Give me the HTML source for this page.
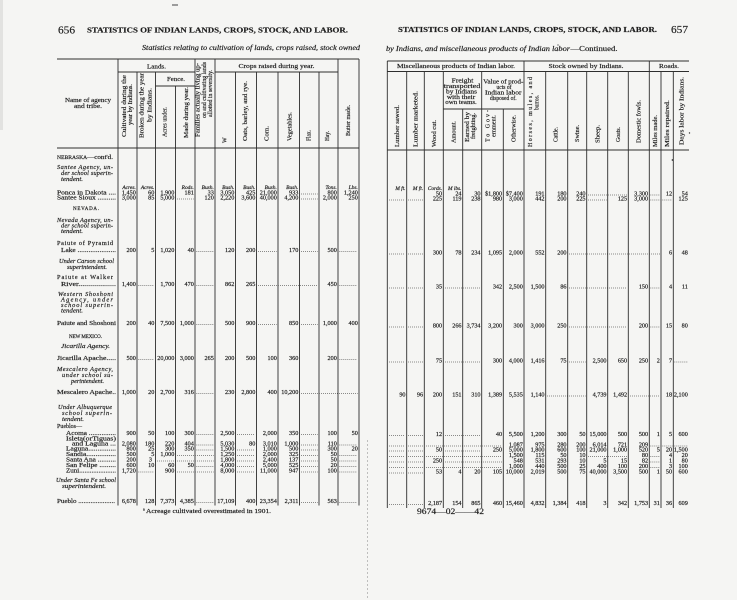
<!DOCTYPE html>
<html><head><meta charset="utf-8">
<style>
html,body{margin:0;padding:0;background:#f5f5f3;}
svg{display:block}
text{font-family:"Liberation Serif",serif;fill:#1e1e1e;stroke:#1e1e1e;stroke-width:.18px}
.n{font-size:6.2px;text-anchor:end}
.u{font-size:5.4px;font-style:italic;text-anchor:end}
.nm{font-size:6.3px}
.it{font-style:italic}
.r{font-size:6px}
.hd{font-size:6.3px;text-anchor:middle}
.ln{stroke:#2e2e2e;stroke-width:.9;fill:none}
.d{stroke:#2a2a2a;stroke-width:.8;stroke-dasharray:.7 1.3;fill:none}
</style></head><body>
<svg width="737" height="600" viewBox="0 0 737 600" xmlns="http://www.w3.org/2000/svg">
<rect x="0" y="0" width="737" height="600" fill="#f5f5f3"/>
<rect x="0" y="0" width="3" height="130" fill="#e2e2e0"/>
<rect x="172" y="4.5" width="6" height="1" fill="#444"/>
<path d="M367.5 440V600" stroke="#9a9a9a" stroke-width=".6" stroke-dasharray="2 2"/>

<!-- Page headings -->
<text x="58" y="33.5" font-size="11" textLength="17" lengthAdjust="spacingAndGlyphs">656</text>
<text x="87" y="32.5" font-size="7.5" font-weight="bold" textLength="261" lengthAdjust="spacingAndGlyphs">STATISTICS OF INDIAN LANDS, CROPS, STOCK, AND LABOR.</text>
<text x="142" y="50" font-size="7" class="it" textLength="218" lengthAdjust="spacingAndGlyphs">Statistics relating to cultivation of lands, crops raised, stock owned</text>

<text x="398" y="32" font-size="7.5" font-weight="bold" textLength="259" lengthAdjust="spacingAndGlyphs">STATISTICS OF INDIAN LANDS, CROPS, STOCK, AND LABOR.</text>
<text x="671" y="33" font-size="11" textLength="17" lengthAdjust="spacingAndGlyphs">657</text>
<text x="386" y="51" font-size="7" class="it" textLength="184" lengthAdjust="spacingAndGlyphs">by Indians, and miscellaneous products of Indian labor</text>
<text x="570.5" y="51" font-size="7" textLength="47" lengthAdjust="spacingAndGlyphs">—Continued.</text>
<circle cx="558" cy="45" r=".6" fill="#333"/>

<!-- LEFT TABLE LINES -->
<path class="ln" stroke-width="1.2" d="M57 59H359"/>
<path class="ln" d="M118 72H195 M215 72H338 M155.5 86H195 M57 148H359"/>
<path class="ln" d="M118 59V505.5 M137 72V505.5 M155.5 72V505.5 M175.5 86V505.5 M195 59V505.5 M215 59V505.5 M235.5 72V505.5 M256.5 72V505.5 M278 72V505.5 M299.5 72V505.5 M319 72V505.5 M338 59V505.5 M359 59V505.5"/>

<!-- LEFT HEADER TEXT -->
<text class="hd" x="88" y="102" textLength="46" lengthAdjust="spacingAndGlyphs">Name of agency</text>
<text class="hd" x="88" y="108" textLength="28" lengthAdjust="spacingAndGlyphs">and tribe.</text>
<text class="hd" x="156.5" y="68.5" textLength="19" lengthAdjust="spacingAndGlyphs">Lands.</text>
<text class="hd" x="176" y="81" textLength="18" lengthAdjust="spacingAndGlyphs">Fence.</text>
<text class="hd" x="276.5" y="68" textLength="76" lengthAdjust="spacingAndGlyphs">Crops raised during year.</text>

<text class="r" transform="translate(126,137) rotate(-90)" textLength="62" lengthAdjust="spacingAndGlyphs">Cultivated during the</text>
<text class="r" transform="translate(132,125) rotate(-90)" textLength="41" lengthAdjust="spacingAndGlyphs">year by Indians.</text>
<text class="r" transform="translate(143.7,138) rotate(-90)" textLength="65" lengthAdjust="spacingAndGlyphs">Broken during the year</text>
<text class="r" transform="translate(151.3,122) rotate(-90)" textLength="34" lengthAdjust="spacingAndGlyphs">by Indians.</text>
<text class="r" transform="translate(166.5,137) rotate(-90)" textLength="30" lengthAdjust="spacingAndGlyphs">Acres under.</text>
<text class="r" transform="translate(188,138) rotate(-90)" textLength="51" lengthAdjust="spacingAndGlyphs">Made during year.</text>
<text class="r" transform="translate(199.3,137) rotate(-90)" textLength="74" lengthAdjust="spacingAndGlyphs">Families actually living up-</text>
<text class="r" transform="translate(206,118) rotate(-90)" textLength="56" lengthAdjust="spacingAndGlyphs">on and cultivating lands</text>
<text class="r" transform="translate(212,117) rotate(-90)" textLength="47" lengthAdjust="spacingAndGlyphs">allotted in severalty.</text>
<text class="r" transform="translate(226.5,143) rotate(-90)">W</text>
<text class="r" transform="translate(247,141) rotate(-90)" textLength="60" lengthAdjust="spacingAndGlyphs">Oats, barley, and rye.</text>
<text class="r" transform="translate(268.7,141) rotate(-90)" textLength="15" lengthAdjust="spacingAndGlyphs">Corn.</text>
<text class="r" transform="translate(291.5,141) rotate(-90)" textLength="29" lengthAdjust="spacingAndGlyphs">Vegetables.</text>
<text class="r" transform="translate(310.5,141) rotate(-90)" textLength="11" lengthAdjust="spacingAndGlyphs">Flax.</text>
<text class="r" transform="translate(329,141) rotate(-90)" textLength="10" lengthAdjust="spacingAndGlyphs">Hay.</text>
<text class="r" transform="translate(349.8,136) rotate(-90)" textLength="31" lengthAdjust="spacingAndGlyphs">Butter made.</text>

<!-- LEFT NAME COLUMN -->
<g class="nm">
<text x="57" y="159" textLength="56" lengthAdjust="spacingAndGlyphs"><tspan font-size="5">NEBRASKA</tspan>—cont'd.</text>
<text x="57" y="169" class="it" textLength="56" lengthAdjust="spacing">Santee Agency, un-</text>
<text x="61" y="175" class="it" textLength="52" lengthAdjust="spacing">der school superin-</text>
<text x="61" y="181" class="it" textLength="22" lengthAdjust="spacingAndGlyphs">tendent.</text>
<text x="57" y="194.5" textLength="59" lengthAdjust="spacingAndGlyphs">Ponca in Dakota ....</text>
<text x="57" y="199.5" textLength="59" lengthAdjust="spacingAndGlyphs">Santee Sioux ..........</text>
<text x="73" y="210" font-size="5" textLength="26" lengthAdjust="spacing">NEVADA.</text>
<text x="57" y="222" class="it" textLength="56" lengthAdjust="spacing">Nevada Agency, un-</text>
<text x="61" y="227.5" class="it" textLength="52" lengthAdjust="spacing">der school superin-</text>
<text x="61" y="233" class="it" textLength="22" lengthAdjust="spacingAndGlyphs">tendent.</text>
<text x="57" y="245" textLength="56" lengthAdjust="spacing">Paiute of Pyramid</text>
<text x="61" y="252" textLength="55" lengthAdjust="spacingAndGlyphs">Lake .....................</text>
<text x="59" y="263" class="it" textLength="55" lengthAdjust="spacing">Under Carson school</text>
<text x="67" y="269" class="it" textLength="40" lengthAdjust="spacingAndGlyphs">superintendent.</text>
<text x="57" y="279" textLength="56" lengthAdjust="spacing">Paiute at Walker</text>
<text x="61" y="286" textLength="55" lengthAdjust="spacingAndGlyphs">River...................</text>
<text x="58" y="296" class="it" textLength="55" lengthAdjust="spacing">Western Shoshoni</text>
<text x="61" y="301.5" class="it" textLength="52" lengthAdjust="spacing">Agency, under</text>
<text x="61" y="307" class="it" textLength="52" lengthAdjust="spacing">school superin-</text>
<text x="61" y="312.5" class="it" textLength="22" lengthAdjust="spacingAndGlyphs">tendent.</text>
<text x="57" y="325" textLength="59" lengthAdjust="spacingAndGlyphs">Paiute and Shoshoni</text>
<text x="69" y="338" font-size="5" textLength="33" lengthAdjust="spacing">NEW MEXICO.</text>
<text x="61" y="348" class="it" textLength="49" lengthAdjust="spacingAndGlyphs">Jicarilla Agency.</text>
<text x="57" y="360" textLength="59" lengthAdjust="spacingAndGlyphs">Jicarilla Apache.....</text>
<text x="57" y="371" class="it" textLength="56" lengthAdjust="spacing">Mescalero Agency,</text>
<text x="62" y="377" class="it" textLength="51" lengthAdjust="spacing">under school su-</text>
<text x="71" y="383" class="it" textLength="33" lengthAdjust="spacingAndGlyphs">perintendent.</text>
<text x="57" y="394" textLength="59" lengthAdjust="spacingAndGlyphs">Mescalero Apache..</text>
<text x="58" y="409" class="it" textLength="54" lengthAdjust="spacing">Under Albuquerque</text>
<text x="62" y="415" class="it" textLength="50" lengthAdjust="spacing">school superin-</text>
<text x="62" y="421" class="it" textLength="22" lengthAdjust="spacingAndGlyphs">tendent.</text>
<text x="57" y="428" textLength="25" lengthAdjust="spacingAndGlyphs">Pueblos—</text>
<text x="66" y="435" textLength="50" lengthAdjust="spacingAndGlyphs">Acoma ...............</text>
<text x="66" y="440.5" textLength="50" lengthAdjust="spacingAndGlyphs">Isleta(orTiguas)</text>
<text x="72" y="445.5" textLength="44" lengthAdjust="spacingAndGlyphs">and Laguna ...</text>
<text x="66" y="450.5" textLength="50" lengthAdjust="spacingAndGlyphs">Laguna...............</text>
<text x="66" y="456" textLength="50" lengthAdjust="spacingAndGlyphs">Sandia................</text>
<text x="66" y="461.5" textLength="50" lengthAdjust="spacingAndGlyphs">Santa Ana ..........</text>
<text x="66" y="467" textLength="50" lengthAdjust="spacingAndGlyphs">San Felipe .........</text>
<text x="66" y="472.5" textLength="50" lengthAdjust="spacingAndGlyphs">Zuni.....................</text>
<text x="56" y="482" class="it" textLength="60" lengthAdjust="spacing">Under Santa Fe school</text>
<text x="62" y="488" class="it" textLength="44" lengthAdjust="spacingAndGlyphs">superintendent.</text>
<text x="57" y="503" textLength="58" lengthAdjust="spacingAndGlyphs">Pueblo .....................</text>
</g>
<text x="143" y="510.5" font-size="4">a</text>
<text x="146" y="513" font-size="6.5" textLength="125" lengthAdjust="spacingAndGlyphs">Acreage cultivated overestimated in 1901.</text>

<!-- LEFT UNITS -->
<g class="u" transform="translate(0,189)">
<text x="135.8">Acres.</text><text x="154.3">Acres.</text><text x="193.8">Rods.</text><text x="213.8">Bush.</text><text x="234.3">Bush.</text><text x="255.3">Bush.</text><text x="276.8">Bush.</text><text x="298.3">Bush.</text><text x="336.8">Tons.</text><text x="357.8">Lbs.</text>
</g>

<!-- LEFT DATA -->
<g class="n" transform="translate(0,194.5)"><text x="135.8">1,450</text><text x="154.3">60</text><text x="174.3">1,900</text><text x="193.8">181</text><text x="213.8">33</text><text x="234.3">3,050</text><text x="255.3">425</text><text x="276.8">21,000</text><text x="298.3">933</text><text x="336.8">800</text><text x="357.8">1,240</text></g>
<g class="n" transform="translate(0,199.5)"><text x="135.8">3,000</text><text x="154.3">85</text><text x="174.3">5,000</text><text x="213.8">120</text><text x="234.3">2,220</text><text x="255.3">3,600</text><text x="276.8">40,000</text><text x="298.3">4,200</text><text x="336.8">2,000</text><text x="357.8">250</text></g>
<g class="n" transform="translate(0,252)"><text x="135.8">200</text><text x="154.3">5</text><text x="174.3">1,020</text><text x="193.8">40</text><text x="234.3">120</text><text x="255.3">200</text><text x="298.3">170</text><text x="336.8">500</text></g>
<g class="n" transform="translate(0,286)"><text x="135.8">1,400</text><text x="174.3">1,700</text><text x="193.8">470</text><text x="234.3">862</text><text x="255.3">265</text><text x="336.8">450</text></g>
<g class="n" transform="translate(0,325)"><text x="135.8">200</text><text x="154.3">40</text><text x="174.3">7,500</text><text x="193.8">1,000</text><text x="234.3">500</text><text x="255.3">900</text><text x="298.3">850</text><text x="336.8">1,000</text><text x="357.8">400</text></g>
<g class="n" transform="translate(0,360)"><text x="135.8">500</text><text x="174.3">20,000</text><text x="193.8">3,000</text><text x="213.8">265</text><text x="234.3">200</text><text x="255.3">500</text><text x="276.8">100</text><text x="298.3">360</text><text x="336.8">200</text></g>
<g class="n" transform="translate(0,394)"><text x="135.8">1,000</text><text x="154.3">20</text><text x="174.3">2,700</text><text x="193.8">316</text><text x="234.3">230</text><text x="255.3">2,800</text><text x="276.8">400</text><text x="298.3">10,200</text></g>
<g class="n" transform="translate(0,435)"><text x="135.8">900</text><text x="154.3">50</text><text x="174.3">100</text><text x="193.8">300</text><text x="234.3">2,500</text><text x="276.8">2,000</text><text x="298.3">350</text><text x="336.8">100</text><text x="357.8">50</text></g>
<g class="n" transform="translate(0,445.5)"><text x="135.8">2,080</text><text x="154.3">180</text><text x="174.3">220</text><text x="193.8">404</text><text x="234.3">5,030</text><text x="255.3">80</text><text x="276.8">3,010</text><text x="298.3">1,000</text><text x="336.8">110</text></g>
<g class="n" transform="translate(0,450.5)"><text x="135.8">800</text><text x="154.3">25</text><text x="174.3">300</text><text x="193.8">350</text><text x="234.3">1,500</text><text x="276.8">1,000</text><text x="298.3">500</text><text x="336.8">300</text><text x="357.8">20</text></g>
<g class="n" transform="translate(0,456)"><text x="135.8">500</text><text x="154.3">5</text><text x="174.3">1,000</text><text x="234.3">1,250</text><text x="276.8">2,000</text><text x="298.3">325</text><text x="336.8">50</text></g>
<g class="n" transform="translate(0,461.5)"><text x="135.8">200</text><text x="152">3</text><text x="234.3">1,800</text><text x="276.8">2,400</text><text x="298.3">137</text><text x="336.8">50</text></g>
<g class="n" transform="translate(0,467)"><text x="135.8">600</text><text x="154.3">10</text><text x="174.3">60</text><text x="193.8">50</text><text x="234.3">4,000</text><text x="276.8">5,000</text><text x="298.3">525</text><text x="336.8">20</text></g>
<g class="n" transform="translate(0,472.5)"><text x="135.8">1,720</text><text x="174.3">900</text><text x="234.3">8,000</text><text x="276.8">11,000</text><text x="298.3">947</text><text x="336.8">100</text></g>
<g class="n" transform="translate(0,503)"><text x="135.8">6,678</text><text x="154.3">128</text><text x="174.3">7,373</text><text x="193.8">4,385</text><text x="234.3">17,109</text><text x="255.3">400</text><text x="276.8">23,354</text><text x="298.3">2,311</text><text x="336.8">563</text></g>

<path class="d" d="M301 194H317.5
M177 199H193.5 M301 199H317.5
M196.5 251.5H213.5 M258 251.5H276.5 M301 251.5H317.5 M339.5 251.5H357.5
M138.5 285.5H154 M196.5 285.5H213.5 M258 285.5H317.5 M339.5 285.5H357.5
M196.5 324.5H213.5 M258 324.5H276.5 M301 324.5H317.5
M138.5 359.5H154 M339.5 359.5H357.5
M196.5 393.5H213.5 M301 393.5H357.5
M196.5 434.5H213.5 M237 434.5H255 M301 434.5H317.5
M196.5 445H213.5 M301 445H317.5 M339.5 445H357.5
M196.5 450H213.5 M237 450H255 M301 450H317.5
M177 455.5H213.5 M237 455.5H255 M301 455.5H317.5 M339.5 455.5H357.5
M155 461H213.5 M237 461H255 M301 461H317.5 M339.5 461H357.5
M196.5 466.5H213.5 M237 466.5H255 M301 466.5H317.5 M339.5 466.5H357.5
M138.5 472H154 M177 472H213.5 M237 472H255 M301 472H317.5 M339.5 472H357.5
M196.5 502.5H213.5 M301 502.5H317.5 M339.5 502.5H357.5"/>

<!-- RIGHT TABLE LINES -->
<path class="ln" stroke-width="1.2" d="M387.3 61H689"/>
<path class="ln" d="M387.3 71.5H689 M443.3 109H524 M387.3 150H689"/>
<path class="ln" d="M387.3 61V508 M406.7 71.5V508 M424.3 71.5V508 M443.3 71.5V508 M462.7 109V508 M481.7 71.5V508 M503.3 109V508 M524 61V508 M545.7 71.5V508 M567.7 71.5V508 M586.7 71.5V508 M607.7 71.5V508 M628.3 71.5V508 M649.3 61V508 M661 71.5V508 M673.3 71.5V508"/>

<!-- RIGHT HEADER TEXT -->
<text class="hd" x="456" y="68" textLength="118" lengthAdjust="spacingAndGlyphs">Miscellaneous products of Indian labor.</text>
<text class="hd" x="586" y="68" textLength="75" lengthAdjust="spacingAndGlyphs">Stock owned by Indians.</text>
<text class="hd" x="669" y="68" textLength="20" lengthAdjust="spacingAndGlyphs">Roads.</text>

<text class="hd" x="462.5" y="82.3" textLength="21.7" lengthAdjust="spacingAndGlyphs">Freight</text>
<text class="hd" x="462" y="88" textLength="36.5" lengthAdjust="spacingAndGlyphs">transported</text>
<text class="hd" x="461.5" y="93.3" textLength="31" lengthAdjust="spacingAndGlyphs">by Indians</text>
<text class="hd" x="461" y="99" textLength="28.3" lengthAdjust="spacingAndGlyphs">with their</text>
<text class="hd" x="461" y="104" textLength="31.5" lengthAdjust="spacingAndGlyphs">own teams.</text>
<text class="hd" x="503.3" y="83.3" textLength="40" lengthAdjust="spacingAndGlyphs">Value of prod-</text>
<text class="hd" x="504" y="89" textLength="15" lengthAdjust="spacingAndGlyphs">ucts of</text>
<text class="hd" x="503.3" y="94.6" textLength="36.5" lengthAdjust="spacingAndGlyphs">Indian labor</text>
<text class="hd" x="503.3" y="100" textLength="26.7" lengthAdjust="spacingAndGlyphs">disposed of.</text>

<text class="r" transform="translate(399,147) rotate(-90)" textLength="42" lengthAdjust="spacingAndGlyphs">Lumber sawed.</text>
<text class="r" transform="translate(417.5,147) rotate(-90)" textLength="56" lengthAdjust="spacingAndGlyphs">Lumber marketed.</text>
<text class="r" transform="translate(436,147) rotate(-90)" textLength="27" lengthAdjust="spacingAndGlyphs">Wood cut.</text>
<text class="r" transform="translate(455.5,143) rotate(-90)" textLength="22" lengthAdjust="spacingAndGlyphs">Amount.</text>
<text class="r" transform="translate(469,142) rotate(-90)" textLength="30" lengthAdjust="spacingAndGlyphs">Earned by</text>
<text class="r" transform="translate(475,139) rotate(-90)" textLength="26" lengthAdjust="spacingAndGlyphs">freighting.</text>
<text class="r" transform="translate(489.5,142) rotate(-90)" textLength="32" lengthAdjust="spacing">To Gov-</text>
<text class="r" transform="translate(495.5,137) rotate(-90)" textLength="22" lengthAdjust="spacingAndGlyphs">ernment.</text>
<text class="r" transform="translate(515.5,142) rotate(-90)" textLength="27" lengthAdjust="spacingAndGlyphs">Otherwise.</text>
<text class="r" transform="translate(532,147) rotate(-90)" textLength="70" lengthAdjust="spacing">Horses, mules, and</text>
<text class="r" transform="translate(538.5,110) rotate(-90)" textLength="15" lengthAdjust="spacingAndGlyphs">burros.</text>
<text class="r" transform="translate(557.5,142) rotate(-90)" textLength="15" lengthAdjust="spacingAndGlyphs">Cattle.</text>
<text class="r" transform="translate(579,142) rotate(-90)" textLength="17" lengthAdjust="spacingAndGlyphs">Swine.</text>
<text class="r" transform="translate(599.5,143) rotate(-90)" textLength="18" lengthAdjust="spacingAndGlyphs">Sheep.</text>
<text class="r" transform="translate(620,142) rotate(-90)" textLength="15" lengthAdjust="spacingAndGlyphs">Goats.</text>
<text class="r" transform="translate(640.5,143) rotate(-90)" textLength="43" lengthAdjust="spacingAndGlyphs">Domestic fowls.</text>
<text class="r" transform="translate(657,147) rotate(-90)" textLength="32" lengthAdjust="spacingAndGlyphs">Miles made.</text>
<text class="r" transform="translate(669,147) rotate(-90)" textLength="47" lengthAdjust="spacingAndGlyphs">Miles repaired.</text>
<text class="r" transform="translate(683.5,145) rotate(-90)" textLength="68" lengthAdjust="spacingAndGlyphs">Days labor by Indians.</text>
<circle cx="689.5" cy="133" r=".7" fill="#333"/>
<circle cx="672.5" cy="160" r=".9" fill="#333"/>

<!-- RIGHT UNITS -->
<g class="u" transform="translate(0,190)">
<text x="405.5">M ft.</text><text x="423.1">M ft.</text><text x="442.1">Cords.</text><text x="461.5">M lbs.</text>
</g>

<!-- RIGHT DATA -->
<g class="n" transform="translate(0,195.5)"><text x="442.1">50</text><text x="461.5">24</text><text x="480.5">30</text><text x="502.1">$1,800</text><text x="522.8">$7,400</text><text x="544.5">191</text><text x="566.5">180</text><text x="585.5">240</text><text x="648.1">3,300</text><text x="672.1">12</text><text x="687.8">54</text></g>
<g class="n" transform="translate(0,200.5)"><text x="442.1">225</text><text x="461.5">119</text><text x="480.5">238</text><text x="502.1">980</text><text x="522.8">3,000</text><text x="544.5">442</text><text x="566.5">200</text><text x="585.5">225</text><text x="627.1">125</text><text x="648.1">3,000</text><text x="687.8">125</text></g>
<g class="n" transform="translate(0,254.5)"><text x="442.1">300</text><text x="461.5">78</text><text x="480.5">234</text><text x="502.1">1,095</text><text x="522.8">2,000</text><text x="544.5">552</text><text x="566.5">200</text><text x="672.1">6</text><text x="687.8">48</text></g>
<g class="n" transform="translate(0,288.5)"><text x="442.1">35</text><text x="502.1">342</text><text x="522.8">2,500</text><text x="544.5">1,500</text><text x="566.5">86</text><text x="648.1">150</text><text x="672.1">4</text><text x="687.8">11</text></g>
<g class="n" transform="translate(0,327.5)"><text x="442.1">800</text><text x="461.5">266</text><text x="480.5">3,734</text><text x="502.1">3,200</text><text x="522.8">300</text><text x="544.5">3,000</text><text x="566.5">250</text><text x="648.1">200</text><text x="672.1">15</text><text x="687.8">80</text></g>
<g class="n" transform="translate(0,362.5)"><text x="442.1">75</text><text x="502.1">300</text><text x="522.8">4,000</text><text x="544.5">1,416</text><text x="566.5">75</text><text x="606.5">2,500</text><text x="627.1">650</text><text x="648.1">250</text><text x="659.8">2</text><text x="672.1">7</text></g>
<g class="n" transform="translate(0,396.5)"><text x="405.5">90</text><text x="423.1">96</text><text x="442.1">200</text><text x="461.5">151</text><text x="480.5">310</text><text x="502.1">1,389</text><text x="522.8">5,535</text><text x="544.5">1,140</text><text x="606.5">4,739</text><text x="627.1">1,492</text><text x="672.1">18</text><text x="687.8">2,100</text></g>
<g class="n" transform="translate(0,436)"><text x="442.1">12</text><text x="502.1">40</text><text x="522.8">5,500</text><text x="544.5">1,200</text><text x="566.5">300</text><text x="585.5">50</text><text x="606.5">15,000</text><text x="627.1">500</text><text x="648.1">500</text><text x="659.8">1</text><text x="672.1">5</text><text x="687.8">600</text></g>
<g class="n" transform="translate(0,446.5)"><text x="522.8">1,087</text><text x="544.5">975</text><text x="566.5">280</text><text x="585.5">200</text><text x="606.5">6,014</text><text x="627.1">721</text><text x="648.1">209</text></g>
<g class="n" transform="translate(0,451.5)"><text x="442.1">50</text><text x="502.1">250</text><text x="522.8">5,000</text><text x="544.5">1,800</text><text x="566.5">600</text><text x="585.5">100</text><text x="606.5">21,000</text><text x="627.1">1,000</text><text x="648.1">520</text><text x="659.8">5</text><text x="672.1">20</text><text x="687.8">1,500</text></g>
<g class="n" transform="translate(0,457)"><text x="522.8">1,500</text><text x="544.5">115</text><text x="566.5">50</text><text x="585.5">10</text><text x="648.1">80</text><text x="672.1">4</text><text x="687.8">20</text></g>
<g class="n" transform="translate(0,462.5)"><text x="442.1">250</text><text x="522.8">548</text><text x="544.5">531</text><text x="566.5">293</text><text x="585.5">10</text><text x="606.5">5</text><text x="627.1">15</text><text x="648.1">82</text><text x="672.1">1</text><text x="687.8">80</text></g>
<g class="n" transform="translate(0,468)"><text x="522.8">1,000</text><text x="544.5">440</text><text x="566.5">500</text><text x="585.5">25</text><text x="606.5">400</text><text x="627.1">100</text><text x="648.1">200</text><text x="672.1">3</text><text x="687.8">100</text></g>
<g class="n" transform="translate(0,473.5)"><text x="442.1">53</text><text x="461.5">4</text><text x="480.5">20</text><text x="502.1">105</text><text x="522.8">10,000</text><text x="544.5">2,019</text><text x="566.5">500</text><text x="585.5">75</text><text x="606.5">40,000</text><text x="627.1">3,500</text><text x="648.1">500</text><text x="659.8">1</text><text x="672.1">50</text><text x="687.8">600</text></g>
<g class="n" transform="translate(0,505)"><text x="442.1">2,187</text><text x="461.5">154</text><text x="480.5">865</text><text x="502.1">460</text><text x="522.8">15,460</text><text x="544.5">4,832</text><text x="566.5">1,384</text><text x="585.5">418</text><text x="606.5">3</text><text x="627.1">342</text><text x="648.1">1,753</text><text x="659.8">31</text><text x="672.1">36</text><text x="687.8">609</text></g>

<path class="d" d="M588 195H627 M650.5 195H660
M389 200H405 M408 200H423 M588 200H606.5 M650.5 200H672
M389 254H405 M408 254H423 M569 254H660
M389 288H405 M408 288H423 M445 288H480.5 M569 288H627 M650.5 288H660
M389 327H405 M408 327H423 M569 327H627 M650.5 327H660
M389 362H405 M408 362H423 M445 362H480.5 M569 362H585.5 M674.5 362H688
M547 396H585.5 M630 396H660
M389 435.5H405 M408 435.5H423 M445 435.5H480.5
M389 446H405 M408 446H423 M426 446H502 M650.5 446H688
M389 451H405 M408 451H423 M445 451H480.5
M389 456.5H405 M408 456.5H423 M426 456.5H502 M588 456.5H627 M650.5 456.5H660
M389 462H405 M408 462H423 M445 462H502 M650.5 462H660
M389 467.5H405 M408 467.5H423 M426 467.5H502 M650.5 467.5H660
M389 473H405 M408 473H423
M389 504.5H405 M408 504.5H423"/>

<text x="417" y="514" font-size="8.5" textLength="67" lengthAdjust="spacingAndGlyphs">9674—02——42</text>
</svg>
</body></html>
